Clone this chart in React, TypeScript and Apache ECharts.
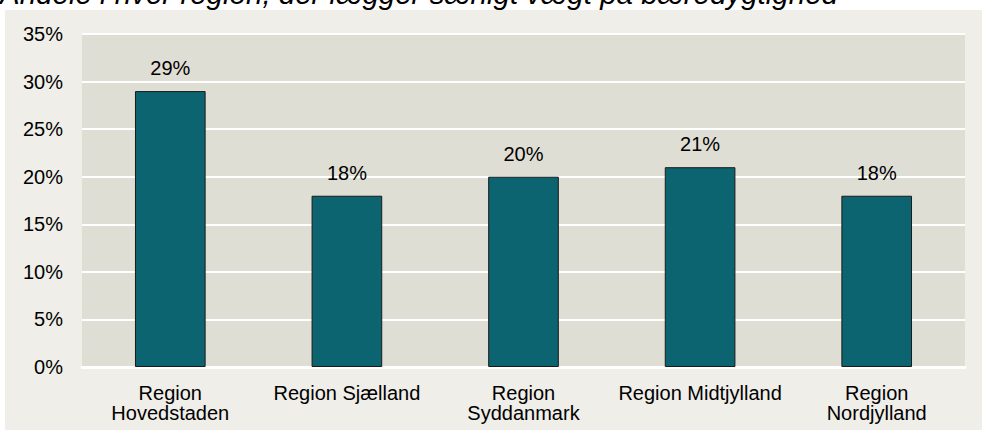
import React, { useEffect, useRef } from "react";
import * as echarts from "echarts";

const categories = [
  "Region\nHovedstaden",
  "Region Sjælland",
  "Region\nSyddanmark",
  "Region Midtjylland",
  "Region\nNordjylland",
];
const values = [29, 18, 20, 21, 18];
const titleText = "Andele i hver region, der lægger særligt vægt på bæredygtighed";

export default function App() {
  const ref = useRef<HTMLDivElement>(null);
  useEffect(() => {
    if (!ref.current) return;
    const chart = echarts.init(ref.current, undefined, { renderer: "svg" });
    chart.setOption({
      animation: false,
      backgroundColor: "#ffffff",
      textStyle: { fontFamily: "Liberation Sans, Arial, sans-serif" },
      graphic: [
        {
          type: "rect",
          z: -10,
          silent: true,
          shape: { x: 5, y: 10, width: 977, height: 420 },
          style: { fill: "#EFEEE8" },
        },
        {
          type: "text",
          x: 0,
          y: 8,
          z: 10,
          style: {
            text: titleText,
            fontSize: 29.5,
            fontStyle: "italic",
            fontFamily: "Liberation Sans, Arial, sans-serif",
            fill: "#000000",
            verticalAlign: "bottom",
          },
        },
      ],
      grid: {
        left: 82,
        right: 17,
        top: 34,
        bottom: 63,
        show: true,
        backgroundColor: "#DFDED4",
        borderWidth: 0,
      },
      xAxis: {
        type: "category",
        data: categories,
        axisLine: { show: true, lineStyle: { color: "#ffffff", width: 3 } },
        axisTick: { show: false },
        axisLabel: {
          color: "#000000",
          fontSize: 20,
          lineHeight: 20,
          margin: 16,
          interval: 0,
        },
      },
      yAxis: {
        type: "value",
        min: 0,
        max: 35,
        interval: 5,
        axisLine: { show: false },
        axisTick: { show: false },
        axisLabel: {
          color: "#000000",
          fontSize: 20,
          margin: 19,
          formatter: "{value}%",
        },
        splitLine: { lineStyle: { color: "#ffffff", width: 2 } },
      },
      series: [
        {
          type: "bar",
          data: values,
          barWidth: "40%",
          itemStyle: { color: "#0B6470", borderColor: "#1a1a1a", borderWidth: 1 },
          label: {
            show: true,
            position: "top",
            distance: 13,
            formatter: "{c}%",
            color: "#000000",
            fontSize: 20,
          },
        },
      ],
    });
    return () => chart.dispose();
  }, []);
  return (
    <div
      ref={ref}
      style={{ position: "fixed", left: 0, top: 0, width: 982, height: 430 }}
    />
  );
}
